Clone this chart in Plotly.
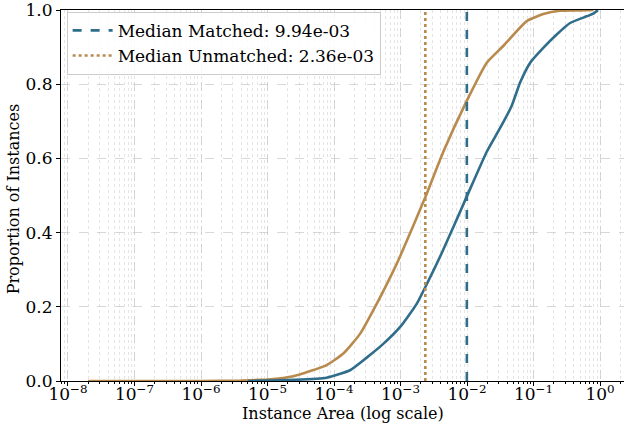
import plotly.graph_objects as go

# Unmatched (orange) CDF
unmatched_area = [2e-8, 1e-7, 1e-6, 4e-6, 7.7e-6, 1e-5, 2.44e-5, 7.76e-5, 1.38e-4, 2.46e-4, 4.38e-4,
                  7.8e-4, 9.8e-4, 2.33e-3, 4.4e-3, 9.9e-3, 1.98e-2, 3.5e-2, 7.9e-2, 0.14, 0.25, 0.5, 0.79]
unmatched_prop = [0.0, 0.0, 0.0, 0.001, 0.003, 0.004, 0.013, 0.043, 0.074, 0.127, 0.208,
                  0.297, 0.335, 0.493, 0.618, 0.755, 0.858, 0.903, 0.97, 0.989, 0.998, 0.999, 1.0]

# Matched (blue) CDF
matched_area = [5.1e-6, 1e-5, 2.44e-5, 7.76e-5, 1.74e-4, 3.1e-4, 5.5e-4, 9.8e-4, 1.75e-3, 2.48e-3,
                4.17e-3, 9.9e-3, 1.98e-2, 3.1e-2, 4.7e-2, 6.3e-2, 8.9e-2, 0.14, 0.223, 0.354,
                0.63, 0.79, 0.93]
matched_prop = [0.0, 0.001, 0.003, 0.009, 0.029, 0.063, 0.10, 0.145, 0.208, 0.261,
                0.345, 0.497, 0.618, 0.68, 0.742, 0.805, 0.858, 0.898, 0.934, 0.965,
                0.983, 0.99, 1.0]

median_matched = 9.94e-3
median_unmatched = 2.36e-3

tick_vals = [1e-8, 1e-7, 1e-6, 1e-5, 1e-4, 1e-3, 1e-2, 1e-1, 1e0]
tick_text = ["10<sup>−8</sup>", "10<sup>−7</sup>", "10<sup>−6</sup>", "10<sup>−5</sup>",
             "10<sup>−4</sup>", "10<sup>−3</sup>", "10<sup>−2</sup>", "10<sup>−1</sup>",
             "10<sup>0</sup>"]

BLUE = "#2f6d8b"
ORANGE = "#b98a4d"
FONT = "DejaVu Serif"

fig = go.Figure()
fig.add_trace(go.Scatter(x=unmatched_area, y=unmatched_prop, mode="lines",
                         line=dict(color=ORANGE, width=2.6, shape="spline", smoothing=0.5),
                         showlegend=False))
fig.add_trace(go.Scatter(x=matched_area, y=matched_prop, mode="lines",
                         line=dict(color=BLUE, width=2.6, shape="spline", smoothing=0.5),
                         showlegend=False))
fig.add_trace(go.Scatter(x=[median_matched, median_matched], y=[0, 1], mode="lines",
                         line=dict(color=BLUE, width=2.6, dash="dash"),
                         name="Median Matched: %.2e" % median_matched))
fig.add_trace(go.Scatter(x=[median_unmatched, median_unmatched], y=[0, 1], mode="lines",
                         line=dict(color=ORANGE, width=2.6, dash="dot"),
                         name="Median Unmatched: %.2e" % median_unmatched))

grid_col = "rgba(200,200,200,0.7)"
fig.update_layout(
    width=624, height=427,
    margin=dict(l=61, r=0, t=7, b=46),
    paper_bgcolor="white", plot_bgcolor="white",
    font=dict(family=FONT, size=16, color="black"),
    legend=dict(x=0.01, y=0.995, xanchor="left", yanchor="top",
                bgcolor="rgba(255,255,255,0.85)", bordercolor="#cccccc", borderwidth=1,
                font=dict(family=FONT, size=17), itemwidth=40, tracegroupgap=0),
    xaxis=dict(type="log", range=[-8.105, 0.36], tickvals=tick_vals, ticktext=tick_text,
               showline=True, linecolor="black", linewidth=1, mirror=True,
               ticks="outside", ticklen=4, tickcolor="black", ticklabelstandoff=-6,
               tickfont=dict(family=FONT, size=17),
               showgrid=True, gridcolor=grid_col, griddash="dash", gridwidth=1,
               minor=dict(ticks="outside", ticklen=2, tickcolor="black", dtick="D1",
                          showgrid=True, gridcolor="rgba(210,210,210,0.6)", griddash="dot"),
               zeroline=False),
    yaxis=dict(range=[0, 1], dtick=0.2, tickformat=".1f",
               showline=True, linecolor="black", linewidth=1, mirror=False,
               ticks="outside", ticklen=4, tickcolor="black", ticklabeloverflow="allow",
               tickfont=dict(family=FONT, size=17),
               showgrid=True, gridcolor=grid_col, griddash="dash", gridwidth=1,
               zeroline=False),
    annotations=[
        dict(text="Instance Area (log scale)", xref="paper", yref="paper",
             x=0.5, y=-0.087, xanchor="center", yanchor="middle", showarrow=False,
             font=dict(family=FONT, size=16)),
        dict(text="Proportion of Instances", xref="paper", yref="paper",
             x=-0.085, y=0.49, xanchor="center", yanchor="middle", showarrow=False,
             textangle=-90, font=dict(family=FONT, size=16)),
    ],
)

fig.write_html("out.html")
